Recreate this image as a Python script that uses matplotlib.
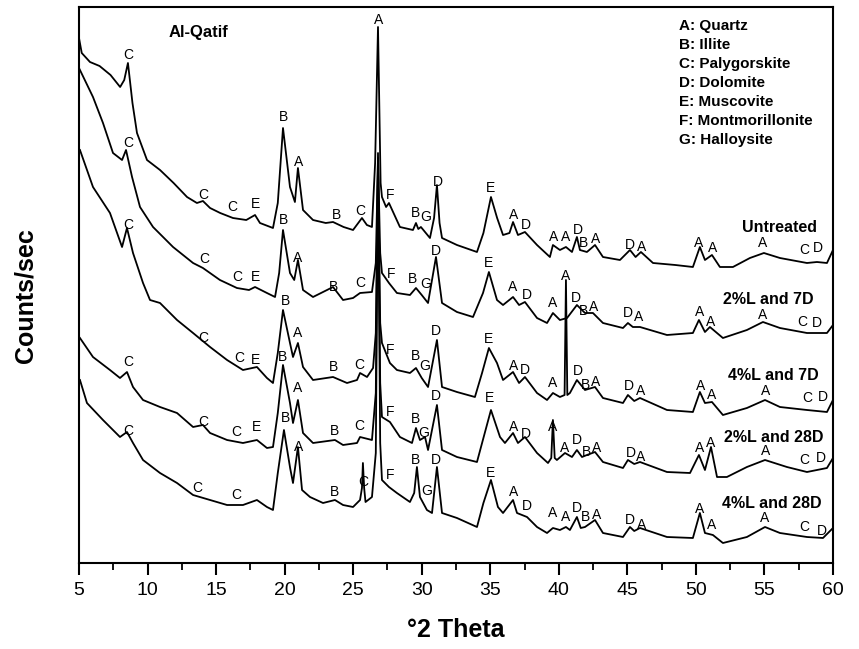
import numpy as np
import matplotlib
matplotlib.use("Agg")
import matplotlib.pyplot as plt
from matplotlib.ticker import MultipleLocator

plt.rcParams['font.family'] = ['Liberation Sans', 'DejaVu Sans']

# traces: [2theta, counts] (counts in arbitrary units)
untreated = np.array([
    [5.0, 525], [5.2, 510], [5.8, 501], [6.5, 497], [7.3, 488], [8.0, 476], [8.3, 483], [8.57, 500],
    [8.9, 460], [9.23, 430], [9.96, 403], [10.91, 393], [11.9, 380], [12.88, 366], [13.6, 360],
    [14.04, 362], [14.56, 355], [15.3, 350], [16.23, 345], [17.2, 343], [17.84, 348], [18.2, 340],
    [19.15, 335], [19.5, 360], [19.88, 435], [20.39, 376], [20.75, 361], [20.97, 395], [21.34, 353],
    [22.07, 343], [23.0, 340], [23.53, 341], [24.3, 336], [24.99, 333], [25.64, 345], [26.0, 338],
    [26.37, 336], [26.6, 400], [26.81, 536], [27.0, 380], [27.1, 366], [27.4, 356], [27.61, 360],
    [28.41, 336], [29.36, 333], [29.58, 340], [29.75, 334], [29.94, 336], [30.6, 325], [30.9, 345],
    [31.11, 378], [31.3, 340], [31.48, 325], [32.57, 318], [34.03, 311], [34.5, 330], [35.05, 366],
    [35.5, 345], [35.93, 328], [36.4, 330], [36.66, 341], [37.02, 328], [37.53, 331], [38.41, 318],
    [39.35, 306], [39.57, 318], [40.08, 313], [40.52, 316], [40.96, 311], [41.32, 326], [41.54, 313],
    [42.05, 311], [42.64, 318], [43.22, 306], [44.46, 303], [45.19, 313], [45.6, 306], [45.99, 311],
    [46.87, 300], [48.5, 298], [49.78, 296], [50.29, 316], [50.66, 303], [51.17, 308], [51.75, 296],
    [52.7, 296], [53.94, 305], [54.96, 310], [56.13, 305], [58.1, 300], [58.83, 301], [59.56, 300],
    [60.0, 313]])

l2_7d = np.array([
    [5.0, 495], [6.02, 466], [6.75, 440], [7.48, 410], [8.14, 403], [8.43, 413], [8.87, 386],
    [9.45, 356], [10.4, 336], [11.86, 316], [13.32, 300], [14.04, 295], [15.28, 283], [16.52, 275],
    [17.4, 273], [17.84, 276], [18.71, 270], [19.3, 266], [19.6, 290], [19.88, 333], [20.39, 290],
    [20.7, 283], [20.97, 303], [21.34, 273], [22.07, 266], [23.53, 276], [24.26, 263], [24.99, 265],
    [25.5, 270], [26.37, 271], [26.65, 300], [26.81, 405], [26.97, 310], [27.1, 290], [27.61, 280],
    [28.19, 270], [29.14, 268], [29.58, 275], [30.0, 268], [30.46, 260], [31.04, 306], [31.48, 260],
    [32.57, 251], [33.74, 246], [34.47, 270], [34.9, 291], [35.49, 263], [35.93, 258], [36.66, 266],
    [37.1, 258], [37.53, 261], [38.41, 245], [39.14, 240], [39.57, 250], [40.08, 243], [40.6, 245],
    [41.32, 258], [41.91, 250], [42.49, 250], [43.22, 240], [44.68, 235], [45.04, 240], [45.4, 236],
    [45.92, 236], [47.89, 228], [49.78, 230], [50.22, 243], [50.66, 231], [51.02, 236], [51.97, 225],
    [53.72, 233], [54.89, 241], [56.13, 235], [58.1, 230], [59.56, 230], [60.0, 238]])

l4_7d = np.array([
    [5.07, 413], [6.02, 376], [7.26, 350], [8.14, 316], [8.5, 335], [8.94, 310], [9.67, 280],
    [10.18, 263], [10.91, 260], [12.15, 243], [13.32, 230], [14.56, 216], [15.8, 203], [16.96, 193],
    [17.98, 196], [18.71, 185], [19.15, 180], [19.5, 210], [19.88, 253], [20.39, 220], [20.61, 206],
    [20.97, 220], [21.34, 196], [22.07, 183], [23.53, 186], [24.55, 180], [25.28, 183], [25.5, 190],
    [26.01, 186], [26.45, 195], [26.65, 230], [26.81, 410], [26.97, 240], [27.1, 220], [27.68, 200],
    [28.19, 193], [29.14, 190], [29.58, 195], [30.0, 185], [30.46, 176], [31.11, 223], [31.48, 176],
    [32.57, 171], [33.88, 166], [34.4, 190], [34.9, 215], [35.49, 200], [35.93, 183], [36.66, 191],
    [37.1, 180], [37.53, 186], [38.41, 170], [39.14, 163], [39.57, 170], [40.08, 166], [40.42, 168],
    [40.52, 283], [40.62, 168], [40.81, 170], [41.32, 183], [41.91, 173], [42.64, 176], [43.22, 165],
    [44.68, 160], [45.04, 168], [45.5, 162], [45.92, 165], [47.89, 153], [49.78, 151], [50.29, 171],
    [50.66, 160], [51.17, 161], [51.97, 148], [53.72, 155], [55.04, 163], [56.13, 156], [58.1, 153],
    [59.56, 151], [60.0, 163]])

l2_28d = np.array([
    [5.07, 225], [6.02, 206], [7.26, 193], [7.99, 185], [8.5, 191], [8.94, 176], [9.67, 163],
    [10.91, 156], [12.15, 150], [13.32, 136], [14.04, 138], [14.56, 130], [15.8, 123], [16.96, 120],
    [17.98, 123], [18.71, 115], [19.15, 116], [19.5, 150], [19.88, 198], [20.39, 160], [20.61, 140],
    [20.97, 163], [21.34, 130], [22.07, 120], [23.67, 123], [24.26, 118], [25.28, 120], [25.5, 126],
    [26.37, 123], [26.65, 170], [26.81, 400], [26.97, 180], [27.1, 146], [27.68, 141], [28.41, 126],
    [29.29, 120], [29.58, 135], [29.87, 123], [30.24, 126], [30.46, 113], [31.11, 158], [31.48, 113],
    [32.57, 106], [34.03, 101], [34.5, 125], [35.05, 153], [35.71, 126], [36.07, 120], [36.66, 130],
    [37.02, 120], [37.53, 126], [38.41, 110], [39.21, 100], [39.45, 105], [39.57, 143], [39.7, 105],
    [39.86, 103], [40.45, 110], [40.96, 106], [41.32, 113], [41.69, 106], [42.05, 108], [42.64, 111],
    [43.22, 101], [44.68, 95], [45.04, 103], [45.5, 99], [45.92, 101], [47.89, 91], [49.57, 90],
    [50.22, 108], [50.66, 93], [51.1, 116], [51.54, 86], [52.26, 86], [53.72, 96], [55.04, 103],
    [56.64, 96], [58.1, 91], [59.56, 95], [60.0, 105]])

l4_28d = np.array([
    [5.07, 183], [5.58, 160], [6.75, 143], [7.99, 126], [8.5, 131], [8.94, 120], [9.67, 103],
    [10.91, 90], [12.15, 80], [13.32, 68], [14.56, 63], [15.8, 58], [16.96, 58], [17.98, 63],
    [18.71, 56], [19.15, 53], [19.5, 90], [19.95, 133], [20.4, 95], [20.61, 80], [20.97, 116],
    [21.27, 73], [21.85, 66], [22.8, 60], [23.67, 63], [24.26, 58], [24.99, 56], [25.5, 63],
    [25.64, 75], [25.71, 100], [25.8, 75], [25.9, 61], [26.37, 66], [26.65, 110], [26.81, 400],
    [26.97, 120], [27.1, 83], [27.61, 76], [28.19, 70], [29.14, 61], [29.45, 70], [29.65, 96],
    [29.87, 66], [30.38, 53], [30.75, 50], [31.11, 96], [31.48, 50], [32.57, 45], [34.03, 36],
    [34.5, 60], [35.05, 83], [35.56, 56], [35.93, 50], [36.66, 63], [36.95, 50], [37.68, 46],
    [38.41, 36], [39.14, 30], [39.57, 35], [40.08, 33], [40.52, 36], [40.81, 33], [41.32, 46],
    [41.6, 35], [41.91, 36], [42.64, 43], [43.22, 30], [44.68, 26], [45.19, 36], [45.5, 32],
    [45.92, 35], [47.89, 26], [49.78, 25], [50.29, 50], [50.66, 30], [51.24, 28], [51.97, 20],
    [53.72, 26], [55.04, 36], [56.13, 30], [58.1, 26], [59.27, 25], [60.0, 35]])

# peak letters and where they sit
untreated_pk = "CCCEBABCAFBGDEADAADBADAAAACD"
untreated_pk_xy = [
    [8.57, 508], [14.04, 368], [16.16, 356], [17.91, 359], [19.95, 446], [21.05, 401], [23.75, 348],
    [25.5, 352], [26.88, 543], [27.68, 368], [29.51, 350], [30.31, 346], [31.19, 381], [35.05, 375],
    [36.73, 348], [37.6, 338], [39.65, 326], [40.52, 326], [41.4, 333], [41.83, 320], [42.71, 324],
    [45.19, 318], [46.07, 316], [50.22, 320], [51.24, 315], [54.89, 320], [57.88, 313], [58.9, 315]]

l2_7d_pk = "CCCEBABCFBGDEADADBADAAAACD"
l2_7d_pk_xy = [
    [8.57, 420], [14.12, 304], [16.52, 286], [17.91, 286], [19.95, 343], [20.97, 305], [23.6, 276],
    [25.5, 280], [27.76, 289], [29.36, 284], [30.31, 279], [31.04, 312], [34.9, 300], [36.66, 276],
    [37.68, 268], [39.57, 260], [41.25, 265], [41.83, 252], [42.56, 256], [45.04, 250], [45.85, 246],
    [50.29, 251], [51.1, 241], [54.89, 248], [57.74, 241], [58.83, 240]]

l4_7d_pk = "CCCEBABCFBGDEADAADBADAAAACD"
l4_7d_pk_xy = [
    [8.57, 338], [14.04, 225], [16.67, 205], [17.91, 203], [20.03, 262], [20.97, 230], [23.53, 196],
    [25.42, 198], [27.68, 213], [29.58, 207], [30.24, 197], [31.04, 232], [34.9, 224], [36.73, 197],
    [37.53, 193], [39.57, 180], [40.52, 287], [41.4, 192], [41.95, 178], [42.71, 181], [45.12, 177],
    [45.99, 172], [50.37, 177], [51.17, 168], [55.11, 172], [58.1, 165], [59.27, 166]]

l2_28d_pk = "CCCEBABCFBGDEADAADBADAAAACD"
l2_28d_pk_xy = [
    [8.57, 201], [14.04, 141], [16.45, 131], [17.98, 136], [19.88, 206], [20.97, 175], [23.67, 132],
    [25.42, 137], [27.68, 151], [29.51, 144], [30.16, 130], [31.04, 167], [34.98, 165], [36.73, 136],
    [37.6, 129], [39.57, 136], [40.45, 115], [41.32, 123], [42.05, 111], [42.78, 115], [45.26, 110],
    [45.99, 106], [50.29, 115], [51.1, 120], [55.11, 112], [57.88, 103], [59.12, 105]]

l4_28d_pk = "CCCBABCFBGDEADAADBADAAAACD"
l4_28d_pk_xy = [
    [8.57, 132], [13.61, 75], [16.45, 68], [20.03, 145], [21.05, 116], [23.67, 71], [25.71, 81],
    [27.68, 88], [29.58, 103], [30.38, 72], [31.04, 103], [35.05, 90], [36.73, 71], [37.68, 57],
    [39.57, 50], [40.52, 46], [41.32, 55], [41.91, 46], [42.78, 48], [45.19, 43], [46.07, 38],
    [50.29, 54], [51.17, 38], [55.04, 45], [57.88, 36], [59.2, 32]]

sample_names = ["Untreated", "2%L and 7D", "4%L and 7D", "2%L and 28D", "4%L and 28D"]
name_xy = [[56.13, 336], [55.26, 263], [55.62, 187], [55.69, 125], [55.55, 59]]

phase_letters = ["A", "B", "C", "D", "E", "F", "G"]
phase_names = ["Quartz", "Illite", "Palygorskite", "Dolomite", "Muscovite",
               "Montmorillonite", "Halloysite"]

traces = [untreated, l2_7d, l4_7d, l2_28d, l4_28d]
peaks = [(untreated_pk, untreated_pk_xy), (l2_7d_pk, l2_7d_pk_xy), (l4_7d_pk, l4_7d_pk_xy),
         (l2_28d_pk, l2_28d_pk_xy), (l4_28d_pk, l4_28d_pk_xy)]

fig = plt.figure(figsize=(8.59, 6.49), dpi=100)
ax = fig.add_axes([79 / 859, 86 / 649, 754 / 859, 556 / 649])

for tr in traces:
    ax.plot(tr[:, 0], tr[:, 1], color='black', lw=1.3)

for letters, xy in peaks:
    for ch, (x, y) in zip(letters, xy):
        ax.text(x, y, ch, fontsize=10, ha='center', va='center')

for name, (x, y) in zip(sample_names, name_xy):
    ax.text(x, y, name, fontsize=11.5, fontweight='bold', ha='center', va='center')

ax.text(13.68, 531, "Al-Qatif", fontsize=12, fontweight='bold', ha='center', va='center')

legend_txt = "\n".join(f"{a}: {b}" for a, b in zip(phase_letters, phase_names))
ax.text(0.796, 0.978, legend_txt, transform=ax.transAxes, fontsize=11, fontweight='bold',
        ha='left', va='top', linespacing=1.45)

ax.set_xlim(5, 60)
ax.set_ylim(0, 556)
ax.xaxis.set_major_locator(MultipleLocator(5))
ax.xaxis.set_minor_locator(MultipleLocator(2.5))
ax.set_yticks([])
ax.tick_params(axis='x', which='major', direction='out', length=8.5, width=1.5,
               labelsize=14, pad=5)
ax.tick_params(axis='x', which='minor', direction='out', length=5, width=1.3)
for sp in ax.spines.values():
    sp.set_linewidth(1.5)

ax.set_xlabel("°2 Theta", fontsize=18, fontweight='bold', labelpad=14)
ax.set_ylabel("Counts/sec", fontsize=18, fontweight='bold')
ax.yaxis.set_label_coords(-0.055, 0.48)

fig.savefig("out.png", dpi=100)
